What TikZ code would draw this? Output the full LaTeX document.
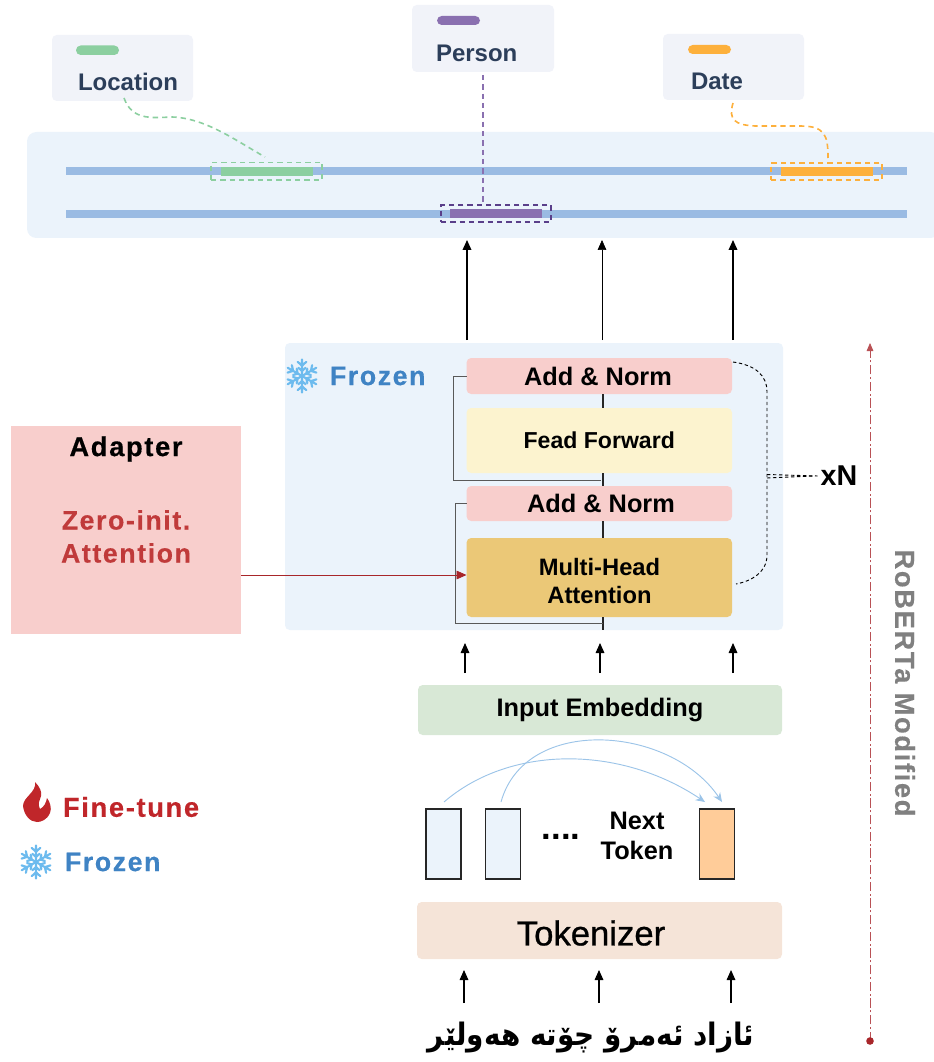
\documentclass[tikz,border=0pt]{standalone}
\usepackage{fontspec}
\setmainfont{Liberation Sans}
\newfontfamily\spaced[LetterSpace=6,FakeBold=0.4]{Liberation Sans}
\newfontfamily\arabicfont[Script=Arabic]{DejaVu Sans Condensed}
\TeXXeTstate=1
\usetikzlibrary{arrows.meta}
\definecolor{panelblue}{HTML}{EBF3FB}
\definecolor{labelbg}{HTML}{F1F3F9}
\definecolor{navy}{HTML}{2C3E5A}
\definecolor{linkgreen}{HTML}{8CCFA0}
\definecolor{linkpurple}{HTML}{8A70B0}
\definecolor{darkpurple}{HTML}{5A3F8A}
\definecolor{linkorange}{HTML}{FDB03C}
\definecolor{rail}{HTML}{9ABBE3}
\definecolor{pinkbox}{HTML}{F8CECC}
\definecolor{creambox}{HTML}{FCF3CF}
\definecolor{goldbox}{HTML}{EBC877}
\definecolor{greenbox}{HTML}{D8E8D6}
\definecolor{sandbox}{HTML}{F5E4D8}
\definecolor{tokorange}{HTML}{FFCC99}
\definecolor{redtxt}{HTML}{C03A3A}
\definecolor{finered}{HTML}{C0262A}
\definecolor{frozblue}{HTML}{3F83C4}
\definecolor{snow}{HTML}{6DBBEE}
\definecolor{arcblue}{HTML}{9CC4E8}
\definecolor{arrowred}{HTML}{A8262A}
\definecolor{rgray}{HTML}{808080}
\newcommand{\fs}[1]{\fontsize{#1}{#1}\selectfont}
% name, x1, y1, x2, y2, style, text
\newcommand{\bx}[7]{\node[#6,minimum width={(#4-#2)*0.75pt},minimum height={(#5-#3)*0.75pt}] (#1) at ({(#2+#4)/2},{(#3+#5)/2}) {#7};}
\newcommand{\snowicon}[3]{%
  \foreach \a in {30,90,150,210,270,330}{%
    \draw[snow,line width=1.6pt,line cap=round,shift={(#1,#2)},rotate=\a]
      (0,0) -- (#3,0)
      ({0.62*#3},0) -- ({0.86*#3},{0.26*#3})
      ({0.62*#3},0) -- ({0.86*#3},{-0.26*#3})
      ({0.3*#3},0) -- ({0.5*#3},{0.22*#3})
      ({0.3*#3},0) -- ({0.5*#3},{-0.22*#3});}}
\tikzset{
  base/.style={inner sep=0pt,outer sep=0pt,align=center},
  rbox/.style={base,rounded corners=3.5pt},
  tag/.style={rbox,fill=labelbg},
  pinkb/.style={rbox,fill=pinkbox},
  token/.style={base,draw=black!85,line width=1pt,fill=panelblue},
  txt/.style={base,anchor=west},
  uparrow/.style={-{Triangle[length=7.5pt,width=6.5pt]},black,line width=0.8pt},
  thinline/.style={black!85,line width=0.8pt},
  skipline/.style={black!65,line width=0.7pt},
  hbrace/.style={black,line width=0.7pt,dash pattern=on 2.5pt off 2pt},
  arc/.style={arcblue,line width=0.7pt,-{Stealth[length=7pt,width=6pt]}},
  link/.style={line width=1.2pt,dash pattern=on 4pt off 3pt},
  spanbox/.style={base,line width=1.4pt,dash pattern=on 4pt off 3pt},
}
\begin{document}
\begin{tikzpicture}[x=0.75pt,y=-0.75pt]
\useasboundingbox (0,0) rectangle (933,1062);
% top band
\bx{band}{27}{132}{940}{238}{rbox,fill=panelblue,rounded corners=7pt}{}
\bx{railA}{66}{167.5}{907}{175.5}{base,fill=rail}{}
\bx{railB}{66}{210.5}{907}{218}{base,fill=rail}{}
\bx{segG}{221}{167}{313}{176}{base,fill=linkgreen}{}
\bx{segP}{450}{209}{542}{218}{base,fill=linkpurple}{}
\bx{segO}{781}{167}{873}{176}{base,fill=linkorange}{}
\bx{spanG}{211}{162.5}{322}{180}{spanbox,draw=linkgreen}{}
\bx{spanP}{441}{205}{551}{222}{spanbox,draw=darkpurple}{}
\bx{spanO}{771}{163}{882}{180}{spanbox,draw=linkorange}{}
% tags
\bx{tagL}{52}{35}{193}{101}{tag}{}
\bx{tagP}{412}{5}{554}{72}{tag}{}
\bx{tagD}{663}{34}{804}{100}{tag}{}
\bx{pillL}{76}{45.5}{119}{55}{base,fill=linkgreen,rounded corners=3.5pt}{}
\bx{pillP}{437}{16}{480}{25}{base,fill=linkpurple,rounded corners=3.5pt}{}
\bx{pillD}{688}{45}{731}{54}{base,fill=linkorange,rounded corners=3.5pt}{}
\node[txt,text=navy,font=\bfseries\fs{18}] (tL) at (78,82) {Location};
\node[txt,text=navy,font=\bfseries\fs{18}] (tP) at (436,53) {Person};
\node[txt,text=navy,font=\bfseries\fs{18}] (tD) at (691,81) {Date};
% tag links
\coordinate (lL) at (124,98); \coordinate (lLe) at (265,157);
\coordinate (lP) at (483,75); \coordinate (lPe) at (483,205);
\coordinate (lD) at (733,103); \coordinate (lDe) at (828,158);
\draw[link,draw=linkgreen] (lL) .. controls (132,120) and (150,118) .. (172,117) .. controls (205,118) and (235,140) .. (lLe);
\draw[link,draw=linkpurple] (lP) -- (lPe);
\draw[link,draw=linkorange] (lD) .. controls (728,120) and (735,125) .. (755,126) -- (800,126) .. controls (825,126) and (828,135) .. (lDe);
% frozen panel
\bx{panel}{285}{343}{783}{630}{rbox,fill=panelblue}{}
\snowicon{302}{376}{16.5}
\node[txt,text=frozblue,font=\spaced\bfseries\fs{20}] (frz) at (330,376) {Frozen};
\bx{an1}{466.5}{358}{732}{394}{pinkb}{}
\node[base,font=\bfseries\fs{19}] (an1t) at (598,376) {Add \& Norm};
\bx{ff}{466.5}{408}{732}{473}{rbox,fill=creambox,font=\bfseries\fs{17.3}}{Fead Forward}
\bx{an2}{466.5}{486}{732}{521}{pinkb}{}
\node[base,font=\bfseries\fs{19}] (an2t) at (601,503) {Add \& Norm};
\bx{mha}{466.5}{538}{732}{617}{rbox,fill=goldbox}{}
\node[base,font=\bfseries\fs{17.8}] (mhat) at (599.5,581) {Multi-Head\\[2.5pt]Attention};
\draw[thinline] (an1.south -| 603,0) -- (ff.north -| 603,0);
\draw[thinline] (ff.south -| 603,0) -- (an2.north -| 603,0);
\draw[thinline] (an2.south -| 603,0) -- (mha.north -| 603,0);
\coordinate (pbot) at (603,630);
\draw[thinline] (mha.south -| 603,0) -- (pbot);
\coordinate (sk1) at (601,480);
\coordinate (sk2) at (603,623);
\draw[skipline] (an1.west) -- ++(-13,0) |- (sk1);
\draw[skipline] (an2.west) -- ++(-11,0) |- (sk2);
% upper arrows
\coordinate (a1) at (467,340); \coordinate (a2) at (602,340); \coordinate (a3) at (733,340);
\draw[uparrow,line width=1.1pt] (a1) -- (467,240);
\draw[uparrow,line width=0.5pt] (a2) -- (602,240);
\draw[uparrow,line width=1.1pt] (a3) -- (733,240);
% adapter
\bx{adapter}{11}{426}{241}{634}{base,fill=pinkbox}{}
\node[base,font=\spaced\bfseries\fs{20.5}] (adT) at (126,449) {Adapter};
\node[base,text=redtxt,font=\spaced\bfseries\fs{20}] (z1) at (126,520) {Zero-init.};
\node[base,text=redtxt,font=\spaced\bfseries\fs{20}] (z2) at (126,553) {Attention};
\draw[arrowred,line width=0.6pt,-{Triangle[length=7.5pt,width=6.5pt]}] (adapter.east |- 0,575) -- (mha.west |- 0,575);
% brace
\node[base,font=\bfseries\fs{21.5}] (xn) at (839,476) {xN};
\coordinate (bt) at (733,362); \coordinate (bb) at (736,584); \coordinate (bm) at (767,476);
\draw[hbrace] (bt) .. controls (755,365) and (767,375) .. (767,392) -- (bm) -- (767,555) .. controls (767,572) and (752,581) .. (bb);
\draw[hbrace] (bm) ++(0,-1.5) -- ([shift={(-3,0)}]xn.west);
\draw[hbrace] (bm) ++(0,2) -- ([shift={(-7,0)}]xn.west);
% lower arrows
\coordinate (b1) at (465,673); \coordinate (b2) at (600,673); \coordinate (b3) at (733,673);
\draw[uparrow] (b1) -- (465,643);
\draw[uparrow] (b2) -- (600,643);
\draw[uparrow] (b3) -- (733,643);
\bx{emb}{418}{685}{782}{735}{rbox,fill=greenbox,font=\bfseries\fs{19}}{Input Embedding}
% tokens
\bx{t1}{426}{809}{461}{879}{token}{}
\bx{t2}{485.5}{809}{520.5}{879}{token}{}
\bx{t3}{699.5}{809}{734.5}{879}{token,fill=tokorange}{}
\node[base,font=\bfseries\fs{26}] (dots) at (561,837) {....};
\node[base,font=\bfseries\fs{19}] (next) at (637,836) {Next\\[3pt]Token};
\coordinate (c1) at (444,802); \coordinate (c1e) at (705,802);
\coordinate (c2) at (501,802); \coordinate (c2e) at (722,802);
\draw[arc] (c1) .. controls (510,745) and (620,745) .. (c1e);
\draw[arc] (c2) .. controls (525,715) and (670,725) .. (c2e);
\bx{tok}{417}{902}{782}{959}{rbox,fill=sandbox}{}
\node[base,font=\fs{26}\addfontfeature{FakeBold=0.8}] (tokt) at (591,933) {Tokenizer};
\coordinate (d1) at (464,1003); \coordinate (d2) at (599,1003); \coordinate (d3) at (731,1003);
\draw[uparrow] (d1) -- (464,970);
\draw[uparrow] (d2) -- (599,970);
\draw[uparrow] (d3) -- (731,970);
\node[base,font=\arabicfont\bfseries\fs{23.2}] (ar) at (591,1038) {\beginR ئازاد ئەمرۆ چۆتە هەولێر\endR};
% RoBERTa
\coordinate (rb) at (870,1041); \coordinate (rt) at (870,343);
\draw[arrowred!80,line width=0.6pt,dash pattern=on 7pt off 2pt on 1.5pt off 2pt,-{Triangle[length=6pt,width=5pt]}] (rb) -- (rt);
\fill[arrowred] (rb) circle[radius=3.8];
\node[base,text=rgray,rotate=-90,font=\spaced\bfseries\fs{20.5}] (rob) at (905,683) {RoBERTa Modified};
% legend
\fill[finered] (35,782) .. controls (40,787) and (42,792) .. (41,796) .. controls (40,800) and (37,804) .. (40,809) .. controls (44,807) and (46,803) .. (47,798) .. controls (50,802) and (52,808) .. (50,813) .. controls (47,820) and (41,822) .. (37,822) .. controls (30,822) and (24,815) .. (23,806) .. controls (23,797) and (37,792) .. (35,782) -- cycle;
\node[txt,text=finered,font=\spaced\bfseries\fs{20.5}] (ft) at (63,807) {Fine-tune};
\snowicon{36}{862}{16.5}
\node[txt,text=frozblue,font=\spaced\bfseries\fs{20}] (fr2) at (65,862) {Frozen};
\end{tikzpicture}
\end{document}
